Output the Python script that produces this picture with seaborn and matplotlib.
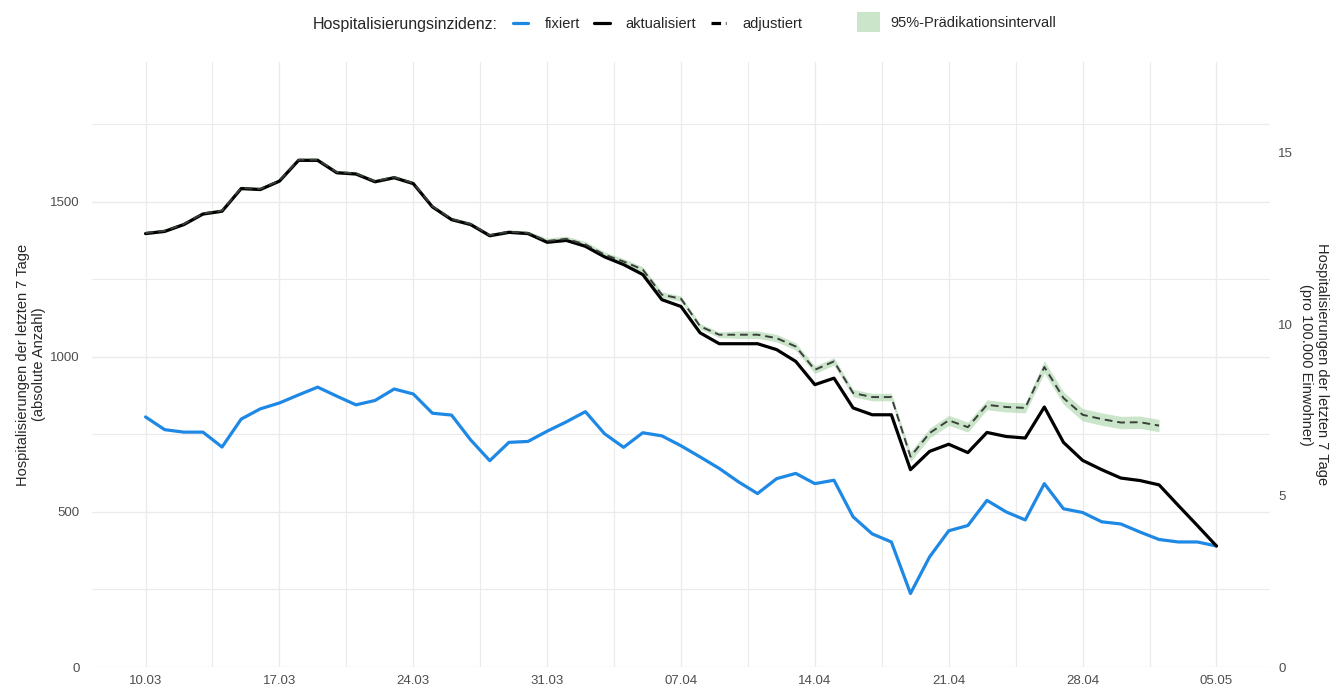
import pandas as pd
import matplotlib
matplotlib.use("Agg")
import matplotlib.pyplot as plt
from matplotlib.lines import Line2D
from matplotlib.patches import Patch
from matplotlib.ticker import MultipleLocator
import seaborn as sns


dates = pd.date_range("2022-03-10", "2022-05-05", freq="D")

fixiert = [
    806, 765, 757, 757, 709, 799, 832, 851, 877, 902,
    873, 845, 859, 896, 880, 818, 812, 732, 665, 724,
    727, 760, 790, 823, 752, 708, 755, 745, 713, 677,
    640, 597, 559, 607, 624, 591, 602, 484, 429, 403,
    237, 355, 439, 456, 537, 500, 474, 591, 510, 498,
    468, 461, 435, 411, 403, 403, 390,
]

aktualisiert = [
    1397, 1404, 1426, 1460, 1469, 1542, 1539, 1566, 1633, 1633,
    1593, 1589, 1564, 1577, 1558, 1483, 1442, 1426, 1390, 1401,
    1397, 1369, 1375, 1356, 1322, 1297, 1265, 1184, 1162, 1077,
    1042, 1042, 1042, 1023, 985, 910, 931, 835, 813, 813,
    636, 695, 718, 691, 756, 743, 738, 838, 724, 666,
    636, 609, 601, 587, 521, 456, 390,
]

adjustiert = [
    1399, 1406, 1428, 1462, 1471, 1544, 1541, 1568, 1635, 1635,
    1595, 1591, 1566, 1579, 1560, 1485, 1444, 1428, 1392, 1403,
    1399, 1373, 1380, 1362, 1329, 1307, 1281, 1200, 1187, 1098,
    1071, 1071, 1071, 1060, 1033, 958, 985, 883, 870, 870,
    678, 754, 795, 773, 845, 838, 835, 967, 867, 813,
    799, 788, 789, 778,
]

pi_lower = [
    1393, 1400, 1422, 1456, 1465, 1538, 1535, 1562, 1629, 1629,
    1589, 1585, 1560, 1573, 1554, 1479, 1438, 1422, 1386, 1397,
    1393, 1364, 1371, 1353, 1320, 1298, 1272, 1191, 1178, 1089,
    1062, 1059, 1059, 1048, 1021, 946, 973, 871, 858, 858,
    662, 738, 779, 757, 829, 822, 819, 947, 847, 793,
    779, 768, 769, 758,
]

pi_upper = [
    1405, 1412, 1434, 1468, 1477, 1550, 1547, 1574, 1641, 1641,
    1601, 1597, 1572, 1585, 1566, 1491, 1450, 1434, 1398, 1409,
    1405, 1382, 1389, 1371, 1338, 1316, 1290, 1209, 1196, 1107,
    1080, 1083, 1083, 1072, 1045, 970, 997, 895, 882, 882,
    694, 770, 811, 789, 861, 854, 851, 987, 887, 833,
    819, 808, 809, 798,
]

# Einwohner / 100.000
EINWOHNER_100K = 110.5

BLUE = "#1E88E5"
BAND = "#99cc99"
GRID = "#ebebeb"
TICK_COLOR = "#4d4d4d"

df = pd.DataFrame({"datum": dates, "fixiert": fixiert, "aktualisiert": aktualisiert})
adj_df = pd.DataFrame(
    {
        "datum": dates[: len(adjustiert)],
        "adjustiert": adjustiert,
        "lower": pi_lower,
        "upper": pi_upper,
    }
)

sns.set_style("white")
plt.rcParams["font.family"] = ["Liberation Sans", "DejaVu Sans"]

fig = plt.figure(figsize=(13.32, 6.89), dpi=100)
ax = fig.add_axes([92 / 1332, 22 / 689, (1270 - 92) / 1332, (667 - 62) / 689])

sns.lineplot(data=df, x="datum", y="fixiert", color=BLUE, linewidth=2.3, ax=ax)
sns.lineplot(data=df, x="datum", y="aktualisiert", color="black", linewidth=2.3, ax=ax)
ax.fill_between(adj_df["datum"], adj_df["lower"], adj_df["upper"],
                color=BAND, alpha=0.5, linewidth=0)
sns.lineplot(data=adj_df, x="datum", y="adjustiert", color="#3a3f3a",
             linewidth=1.4, linestyle=(0, (4, 2.5)), ax=ax)

# axes
pad = pd.Timedelta(days=2.8)
ax.set_xlim(dates[0] - pad, dates[-1] + pad)
ax.set_ylim(0, 1950)

major_dates = dates[::7]
ax.set_xticks(major_dates)
ax.set_xticklabels([d.strftime("%d.%m") for d in major_dates])
ax.set_xticks(major_dates[:-1] + pd.Timedelta(hours=84), minor=True)
ax.yaxis.set_major_locator(MultipleLocator(500))
ax.yaxis.set_minor_locator(MultipleLocator(250))

ax.grid(which="major", color=GRID, linewidth=1.0)
ax.grid(which="minor", color=GRID, linewidth=0.8)
ax.set_axisbelow(True)
for s in ax.spines.values():
    s.set_visible(False)
ax.tick_params(which="both", length=0, labelsize=9.5, labelcolor=TICK_COLOR)
ax.tick_params(axis="x", pad=6)
ax.tick_params(axis="y", pad=9)

ax.set_xlabel("")
ax.set_ylabel("Hospitalisierungen der letzten 7 Tage\n(absolute Anzahl)",
              fontsize=10.5, va="center")
ax.yaxis.set_label_coords(-0.052, 0.5)

sec = ax.secondary_yaxis(
    "right",
    functions=(lambda v: v / EINWOHNER_100K, lambda v: v * EINWOHNER_100K),
)
sec.set_yticks([0, 5, 10, 15])
sec.tick_params(length=0, labelsize=9.5, labelcolor=TICK_COLOR, pad=6)
for s in sec.spines.values():
    s.set_visible(False)
sec.set_ylabel("Hospitalisierungen der letzten 7 Tage\n(pro 100.000 Einwohner)",
               fontsize=10.5, rotation=-90, va="center")
sec.yaxis.set_label_coords(1.0374, 0.5, transform=ax.transAxes)

# legend on top
fig.text(313 / 1332, 1 - 24 / 689, "Hospitalisierungsinzidenz:",
         fontsize=11.5, va="center", ha="left")
line_handles = [
    Line2D([], [], color=BLUE, linewidth=2.3),
    Line2D([], [], color="black", linewidth=2.3),
    Line2D([], [], color="black", linewidth=2.3, linestyle=(0, (3, 1.5))),
]
fig.legend(
    line_handles, ["fixiert", "aktualisiert", "adjustiert"],
    loc="center left", bbox_to_anchor=(513 / 1332, 1 - 24 / 689),
    ncol=3, frameon=False, fontsize=10.5, handlelength=1.05,
    handletextpad=1.1, columnspacing=1.0, borderpad=0, borderaxespad=0,
)
fig.legend(
    [Patch(facecolor=BAND, alpha=0.5, edgecolor="none")],
    ["95%-Prädikationsintervall"],
    loc="center left", bbox_to_anchor=(857 / 1332, 1 - 22 / 689),
    frameon=False, fontsize=10.5, handlelength=1.6, handleheight=1.7,
    handletextpad=0.7, borderpad=0, borderaxespad=0,
)

fig.savefig("out.png", dpi=100)
